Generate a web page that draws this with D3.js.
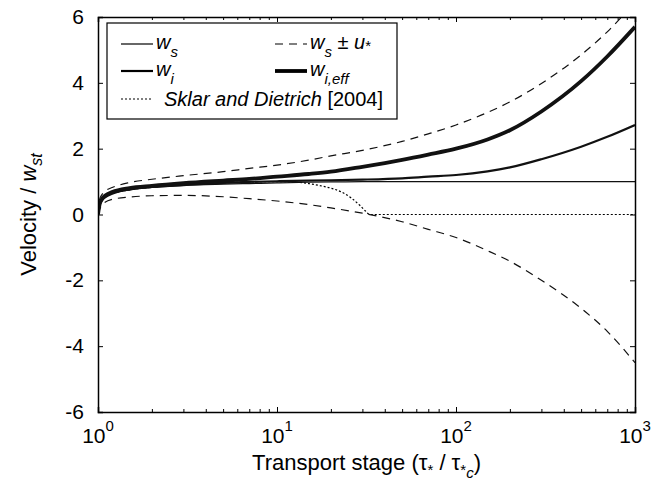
<!DOCTYPE html>
<html>
<head>
<meta charset="utf-8">
<script src="https://cdn.jsdelivr.net/npm/d3@7"></script>
<style>
  body { margin: 0; background: #fff; }
  svg { font-family: "Liberation Sans", Arial, sans-serif; }
</style>
</head>
<body>
<svg id="chart"></svg>
<script>
var width = 672, height = 496;

// transport stage samples (tau* / tau*c)
var stage   = [1, 1.02, 1.05, 1.1, 1.2, 1.5, 2, 3, 5, 7, 10, 15, 20, 30, 50, 70, 100, 150, 200, 300, 500, 700, 1000];
var ws      = [0, 0.3, 0.44, 0.55, 0.64, 0.75, 0.82, 0.88, 0.92, 0.94, 0.96, 0.98, 0.99, 1, 1, 1, 1, 1, 1, 1, 1, 1, 1];
var wsPlus  = [0, 0.45, 0.6, 0.72, 0.82, 0.97, 1.07, 1.18, 1.3, 1.4, 1.5, 1.65, 1.78, 1.95, 2.22, 2.45, 2.72, 3.1, 3.42, 3.98, 4.85, 5.55, 6.45];
var wsMinus = [0, 0.15, 0.28, 0.38, 0.46, 0.53, 0.57, 0.58, 0.54, 0.48, 0.41, 0.3, 0.2, 0.04, -0.22, -0.45, -0.7, -1.1, -1.42, -2.0, -2.85, -3.55, -4.5];
var wi      = [0, 0.28, 0.42, 0.53, 0.63, 0.76, 0.84, 0.9, 0.96, 0.99, 1.01, 1.03, 1.04, 1.06, 1.1, 1.15, 1.2, 1.31, 1.43, 1.68, 2.06, 2.36, 2.72];
var wiEff   = [0, 0.3, 0.46, 0.58, 0.68, 0.8, 0.87, 0.95, 1.03, 1.08, 1.15, 1.23, 1.3, 1.45, 1.66, 1.82, 2.0, 2.28, 2.56, 3.13, 4.05, 4.8, 5.7];

// Sklar and Dietrich [2004]
var sklarStage = [1, 1.02, 1.05, 1.1, 1.2, 1.5, 2, 3, 5, 7, 10, 13, 15, 18, 20, 23, 26, 29, 31, 33, 100, 1000];
var sklar      = [0, 0.28, 0.42, 0.54, 0.63, 0.75, 0.83, 0.9, 0.96, 0.99, 1.0, 0.98, 0.94, 0.86, 0.8, 0.68, 0.5, 0.28, 0.12, 0, 0, 0];

var xTicks = [1, 10, 100, 1000];
var xExp = ["0", "1", "2", "3"];
var yTicks = [-6, -4, -2, 0, 2, 4, 6];

var margin = {left: 98, right: 37, top: 17, bottom: 84};

var svg = d3.select("#chart")
    .attr("width", width)
    .attr("height", height);

var x = d3.scaleLog()
    .domain([1, 1000])
    .range([margin.left, width - margin.right]);

var y = d3.scaleLinear()
    .domain([-6, 6])
    .range([height - margin.bottom, margin.top]);

svg.append("clipPath").attr("id", "plotClip")
  .append("rect")
    .attr("x", margin.left).attr("y", margin.top)
    .attr("width", x(1000) - x(1)).attr("height", y(-6) - y(6));

var line = d3.line()
    .x(function(d){ return x(d[0]); })
    .y(function(d){ return y(d[1]); })
    .curve(d3.curveMonotoneX);

function pairs(xs, ys) {
  return xs.map(function(v, i){ return [v, ys[i]]; });
}

var series = [
  {vals: ws, w: 1.2, dash: null},
  {vals: wsPlus, w: 1.2, dash: "8,6"},
  {vals: wsMinus, w: 1.2, dash: "8,6"},
  {vals: wi, w: 2.2, dash: null},
  {vals: wiEff, w: 3.8, dash: null}
];

var plot = svg.append("g").attr("clip-path", "url(#plotClip)");

plot.append("path")
    .attr("d", line(pairs(sklarStage, sklar)))
    .attr("fill", "none")
    .attr("stroke", "#000")
    .attr("stroke-width", 1.2)
    .attr("stroke-dasharray", "2,2");

series.forEach(function(s){
  plot.append("path")
      .attr("d", line(pairs(stage, s.vals)))
      .attr("fill", "none")
      .attr("stroke", "#111")
      .attr("stroke-width", s.w)
      .attr("stroke-dasharray", s.dash);
});

// axes (ticks inside, box all round)
var minor = [];
[1, 10, 100].forEach(function(d){
  for (var k = 2; k <= 9; k++) minor.push(d * k);
});

var xAxisB = d3.axisBottom(x).tickValues(xTicks).tickSize(-5).tickFormat("");
var xAxisT = d3.axisTop(x).tickValues(xTicks).tickSize(-5).tickFormat("");
var xMinorB = d3.axisBottom(x).tickValues(minor).tickSize(-3).tickFormat("");
var xMinorT = d3.axisTop(x).tickValues(minor).tickSize(-3).tickFormat("");
var yAxisL = d3.axisLeft(y).tickValues(yTicks).tickSize(-5).tickFormat("");
var yAxisR = d3.axisRight(y).tickValues(yTicks).tickSize(-5).tickFormat("");

function drawAxis(ax, tx, ty) {
  var g = svg.append("g").attr("transform", "translate(" + tx + "," + ty + ")").call(ax);
  g.selectAll("path").attr("stroke", "#000").attr("stroke-width", 1.5);
  g.selectAll("line").attr("stroke", "#000").attr("stroke-width", 1);
  return g;
}
drawAxis(xAxisB, 0, y(-6));
drawAxis(xAxisT, 0, y(6));
drawAxis(xMinorB, 0, y(-6)).select(".domain").remove();
drawAxis(xMinorT, 0, y(6)).select(".domain").remove();
drawAxis(yAxisL, x(1), 0);
drawAxis(yAxisR, x(1000), 0);

// tick labels
svg.selectAll(".ylab")
  .data(yTicks)
  .enter().append("text")
    .attr("x", x(1) - 14)
    .attr("y", function(d){ return y(d) + 7; })
    .attr("text-anchor", "end")
    .attr("font-size", "21px")
    .text(function(d){ return d; });

xTicks.forEach(function(d, i){
  var t = svg.append("text")
      .attr("x", x(d))
      .attr("y", 443)
      .attr("text-anchor", "middle")
      .attr("font-size", "21px");
  t.append("tspan").text("10");
  t.append("tspan").attr("dy", -12).attr("font-size", "15px").text(xExp[i]);
});

// axis titles
var xt = svg.append("text")
    .attr("x", (x(1) + x(1000)) / 2)
    .attr("y", 470)
    .attr("text-anchor", "middle")
    .attr("font-size", "22px");
xt.append("tspan").text("Transport stage (\u03C4");
xt.append("tspan").attr("dy", 5).attr("font-size", "15px").text("*");
xt.append("tspan").attr("dy", -5).text(" / \u03C4");
xt.append("tspan").attr("dy", 5).attr("font-size", "15px").text("*");
xt.append("tspan").attr("dy", 3).attr("font-size", "15px").attr("font-style", "italic").text("c");
xt.append("tspan").attr("dy", -8).text(")");

var yt = svg.append("text")
    .attr("transform", "translate(36," + y(0) + ") rotate(-90)")
    .attr("text-anchor", "middle")
    .attr("font-size", "22px");
yt.append("tspan").text("Velocity / ");
yt.append("tspan").attr("font-style", "italic").text("w");
yt.append("tspan").attr("dy", 6).attr("font-size", "16px").attr("font-style", "italic").text("st");

// legend
var lg = svg.append("g");
lg.append("rect")
    .attr("x", 107).attr("y", 23)
    .attr("width", 290).attr("height", 96)
    .attr("fill", "#fff")
    .attr("stroke", "#000")
    .attr("stroke-width", 1.2);

var legendItems = [
  {x: 121, y: 44, w: 1.2, dash: null, main: "w", sub: "s", extra: ""},
  {x: 275, y: 44, w: 1.2, dash: "8,6", main: "w", sub: "s", extra: "u"},
  {x: 121, y: 71, w: 2.2, dash: null, main: "w", sub: "i", extra: ""},
  {x: 275, y: 71, w: 3.8, dash: null, main: "w", sub: "i,eff", extra: ""}
];

legendItems.forEach(function(d){
  lg.append("line")
      .attr("x1", d.x).attr("x2", d.x + 32)
      .attr("y1", d.y).attr("y2", d.y)
      .attr("stroke", "#000")
      .attr("stroke-width", d.w)
      .attr("stroke-dasharray", d.dash);
  var t = lg.append("text")
      .attr("x", d.x + 35)
      .attr("y", d.y + 5)
      .attr("font-size", "20px")
      .attr("font-style", "italic");
  t.append("tspan").text(d.main);
  t.append("tspan").attr("dy", 8).attr("font-size", "15px").text(d.sub);
  if (d.extra) {
    t.append("tspan").attr("dy", -8).attr("font-style", "normal").text(" \u00B1 ");
    t.append("tspan").text(d.extra);
    t.append("tspan").attr("dy", 2).attr("font-size", "15px").attr("font-style", "normal").text("*");
  }
});

lg.append("line")
    .attr("x1", 121).attr("x2", 153)
    .attr("y1", 99).attr("y2", 99)
    .attr("stroke", "#000")
    .attr("stroke-width", 1.2)
    .attr("stroke-dasharray", "2,2");
var st = lg.append("text")
    .attr("x", 164).attr("y", 106)
    .attr("font-size", "20px");
st.append("tspan").attr("font-style", "italic").text("Sklar and Dietrich");
st.append("tspan").text(" [2004]");
</script>
</body>
</html>
